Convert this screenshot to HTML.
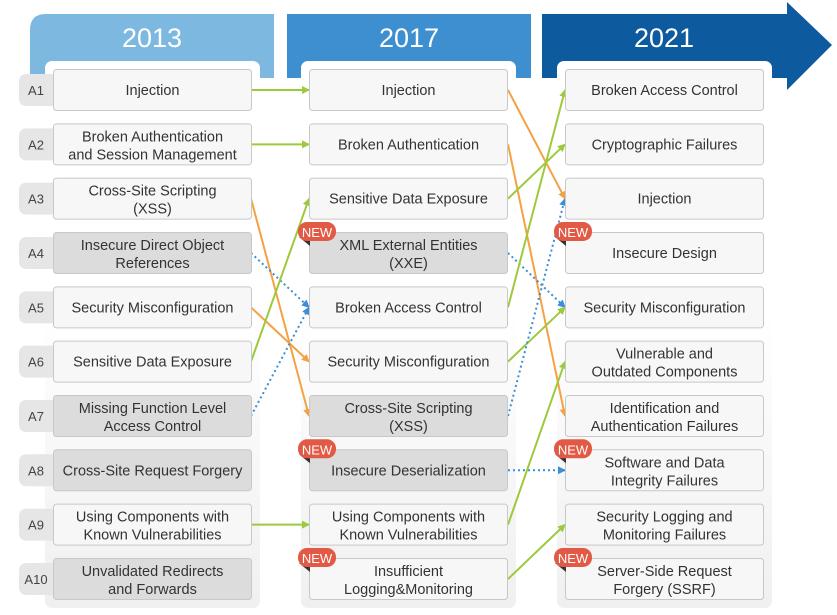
<!DOCTYPE html>
<html><head><meta charset="utf-8"><style>
html,body{margin:0;padding:0;background:#fff;}
svg{display:block;font-family:"Liberation Sans","DejaVu Sans",sans-serif;}
</style></head><body>
<svg id="s" width="837" height="615" viewBox="0 0 837 615" xmlns="http://www.w3.org/2000/svg">
<defs>
<linearGradient id="pg" x1="0" y1="0" x2="0" y2="1"><stop offset="0" stop-color="#fff"/><stop offset="0.45" stop-color="#fff"/><stop offset="1" stop-color="#f0f0f0"/></linearGradient>
<marker id="mg" markerWidth="8" markerHeight="8" refX="7" refY="4" orient="auto" markerUnits="userSpaceOnUse"><path d="M0,0 L8,4 L0,8 Z" fill="#9cca3c"/></marker>
<marker id="mo" markerWidth="8" markerHeight="8" refX="7" refY="4" orient="auto" markerUnits="userSpaceOnUse"><path d="M0,0 L8,4 L0,8 Z" fill="#f5a142"/></marker>
<marker id="mb" markerWidth="8" markerHeight="8" refX="7" refY="4" orient="auto" markerUnits="userSpaceOnUse"><path d="M0,0 L8,4 L0,8 Z" fill="#3a8fd6"/></marker>
</defs>
<path d="M30,78 V30 Q30,14 46,14 H274 V78 Z" fill="#7db8e0"/>
<rect x="287" y="14" width="244" height="64" fill="#3d8fcf"/>
<path d="M542,14 H787 V2 L832,45 L787,90 V78 H542 Z" fill="#0d5a9e"/>
<text x="152" y="47" text-anchor="middle" font-size="27" fill="#fff">2013</text>
<text x="409" y="47" text-anchor="middle" font-size="27" fill="#fff">2017</text>
<text x="664" y="47" text-anchor="middle" font-size="27" fill="#fff">2021</text>
<rect x="45" y="61" width="215" height="547" rx="7" fill="url(#pg)"/>
<rect x="301" y="61" width="215" height="547" rx="7" fill="url(#pg)"/>
<rect x="557" y="61" width="215" height="547" rx="7" fill="url(#pg)"/>
<g id="g"></g>
</svg>
<script>
var g=document.getElementById('g');var h='';
function T(i){return 69+54.33*i;}function C(i){return 90+54.33*i;}
var c1=[["Injection"],["Broken Authentication","and Session Management"],["Cross-Site Scripting","(XSS)"],["Insecure Direct Object","References",1],["Security Misconfiguration"],["Sensitive Data Exposure"],["Missing Function Level","Access Control",1],["Cross-Site Request Forgery",null,1],["Using Components with","Known Vulnerabilities"],["Unvalidated Redirects","and Forwards",1]];
var c2=[["Injection"],["Broken Authentication"],["Sensitive Data Exposure"],["XML External Entities","(XXE)",1,1],["Broken Access Control"],["Security Misconfiguration"],["Cross-Site Scripting","(XSS)",1],["Insecure Deserialization",null,1,1],["Using Components with","Known Vulnerabilities"],["Insufficient","Logging&Monitoring",0,1]];
var c3=[["Broken Access Control"],["Cryptographic Failures"],["Injection"],["Insecure Design",null,0,1],["Security Misconfiguration"],["Vulnerable and","Outdated Components"],["Identification and","Authentication Failures"],["Software and Data","Integrity Failures",0,1],["Security Logging and","Monitoring Failures"],["Server-Side Request","Forgery (SSRF)",0,1]];
for(var i=0;i<10;i++){h+='<path d="M53,'+(C(i)-16)+' H27 Q19,'+(C(i)-16)+' 19,'+(C(i)-8)+' V'+(C(i)+8)+' Q19,'+(C(i)+16)+' 27,'+(C(i)+16)+' H53 Z" fill="#e6e6e6"/>';h+='<text x="36" y="'+(C(i)+5)+'" text-anchor="middle" font-size="13" fill="#444">A'+(i+1)+'</text>';}
var lines=[];
function L(x1,a,x2,b,c,d){var m=c=='g'?'#9cca3c':c=='o'?'#f5a142':'#3a8fd6';h+='<line x1="'+x1+'" y1="'+C(a)+'" x2="'+x2+'" y2="'+C(b)+'" stroke="'+m+'" stroke-width="2"'+(d?' stroke-dasharray="2,3"':'')+' marker-end="url(#m'+c+')"/>';}
L(251,0,309,0,'g');L(251,1,309,1,'g');L(251,2,309,6,'o');L(251,3,309,4,'b',1);L(251,4,309,5,'o');L(251,5,309,2,'g');L(251,6,309,4,'b',1);L(251,8,309,8,'g');
L(508,0,565,2,'o');L(508,1,565,6,'o');L(508,2,565,1,'g');L(508,3,565,4,'b',1);L(508,4,565,0,'g');L(508,5,565,4,'g');L(508,6,565,2,'b',1);L(508,7,565,7,'b',1);L(508,8,565,5,'g');L(508,9,565,8,'g');
function col(x,arr){for(var i=0;i<10;i++){var a=arr[i],t=T(i);h+='<rect x="'+(x+.5)+'" y="'+(t+.5)+'" width="198" height="41" rx="3" fill="'+(a[2]?'#dcdcdc':'#f7f7f7')+'" stroke="#c8c8c8"/>';var cx=x+99.5;
if(a[1]){h+='<text x="'+cx+'" y="'+(t+18)+'" text-anchor="middle" font-size="14.5" fill="#333">'+a[0].replace('&','&amp;')+'</text><text x="'+cx+'" y="'+(t+36)+'" text-anchor="middle" font-size="14.5" fill="#333">'+a[1].replace('&','&amp;')+'</text>';}
else h+='<text x="'+cx+'" y="'+(t+26)+'" text-anchor="middle" font-size="14.5" fill="#333">'+a[0]+'</text>';
if(a[3]){h+='<path d="M'+(x-10)+','+(t+5)+' L'+(x+1)+','+(t+5)+' L'+(x+1)+','+(t+14)+' Z" fill="#333"/><rect x="'+(x-11)+'" y="'+(t-10)+'" width="38" height="19" rx="9" fill="#e25a45"/><text x="'+(x+8)+'" y="'+(t+5)+'" text-anchor="middle" font-size="13" fill="#fff">NEW</text>';}}}
col(53,c1);col(309,c2);col(565,c3);
g.innerHTML=h;
</script>
</body></html>
